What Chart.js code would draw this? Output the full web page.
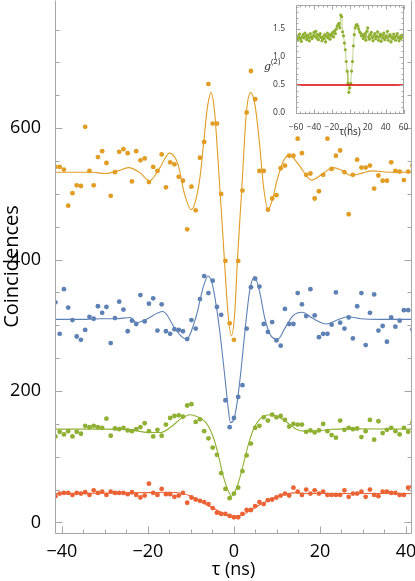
<!DOCTYPE html>
<html>
<head>
<meta charset="utf-8">
<script src="https://cdn.jsdelivr.net/npm/chart.js@4"></script>
<style>
  html, body { margin: 0; padding: 0; background: #fff; }
  #wrap { position: relative; width: 415px; height: 581px; }
  #main { position: absolute; left: 0; top: 0; }
  #inset { position: absolute; left: 255px; top: 0; }
</style>
</head>
<body>
<div id="wrap">
  <canvas id="main" width="415" height="581"></canvas>
  <canvas id="inset" width="157" height="140"></canvas>
</div>
<script>
// time bins (ns), shared by the four measured series
const tau = [-41.50, -40.51, -39.52, -38.53, -37.54, -36.56, -35.57, -34.58, -33.59, -32.60,
  -31.62, -30.63, -29.64, -28.65, -27.66, -26.68, -25.69, -24.70, -23.71, -22.72,
  -21.74, -20.75, -19.76, -18.77, -17.78, -16.80, -15.81, -14.82, -13.83, -12.84,
  -11.86, -10.87, -9.88, -8.89, -7.90, -6.92, -5.93, -4.94, -3.95, -2.96,
  -1.98, -0.99, 0, 0.99, 1.98, 2.96, 3.95, 4.94, 5.93, 6.92,
  7.90, 8.89, 9.88, 10.87, 11.86, 12.84, 13.83, 14.82, 15.81, 16.80,
  17.78, 18.77, 19.76, 20.75, 21.74, 22.72, 23.71, 24.70, 25.69, 26.68,
  27.66, 28.65, 29.64, 30.63, 31.62, 32.60, 33.59, 34.58, 35.57, 36.56,
  37.54, 38.53, 39.52, 40.51, 41.50];

const orange = [541, 541, 537, 482, 501, 513, 512, 602, 535, 513,
  556, 565, 547, 497, 533, 564, 568, 562, 519, 565,
  551, 554, 518, 541, 535, 560, 510, 548, 545, 526,
  520, 446, 511, 475, 555, 579, 667, 607, 607, 500,
  398, 303, 278, 398, 505, 624, 687, 644, 535, 535,
  476, 493, 498, 539, 543, 558, 558, 584, 562, 529,
  531, 493, 504, 529, 584, 538, 558, 566, 533, 469,
  529, 552, 540, 540, 543, 508, 528, 520, 520, 548,
  535, 534, 521, 534, 543];

const blue = [335, 287, 355, 327, 308, 283, 278, 293, 313, 310,
  329, 319, 328, 273, 311, 336, 324, 291, 307, 302,
  346, 306, 333, 341, 292, 332, 291, 287, 294, 293,
  291, 279, 308, 295, 340, 375, 349, 368, 328, 316,
  186, 145, 159, 191, 209, 295, 358, 371, 359, 302,
  290, 305, 277, 269, 325, 302, 302, 349, 332, 314,
  355, 315, 282, 287, 287, 301, 350, 304, 295, 312,
  280, 329, 349, 270, 319, 347, 292, 299, 275, 312,
  298, 307, 323, 323, 294];

const green = [131, 138, 134, 139, 131, 138, 135, 147, 145, 147,
  145, 144, 158, 132, 143, 142, 144, 140, 139, 142,
  145, 151, 139, 131, 141, 132, 149, 159, 162, 163,
  161, 178, 180, 153, 157, 139, 128, 114, 103, 75,
  51, 37, 44, 53, 78, 102, 120, 144, 147, 160,
  155, 164, 160, 162, 156, 146, 150, 149, 149, 138,
  140, 137, 140, 150, 139, 133, 129, 155, 141, 144,
  142, 143, 130, 139, 156, 126, 154, 136, 141, 144,
  139, 134, 144, 138, 152];

const red = [40, 44, 45, 45, 42, 45, 44, 46, 42, 49,
  45, 47, 42, 47, 45, 45, 45, 43, 46, 42,
  38, 41, 59, 45, 42, 51, 43, 43, 39, 41,
  45, 30, 38, 35, 33, 31, 28, 22, 15, 13,
  13, 10, 8, 8, 13, 19, 19, 25, 31, 28,
  34, 35, 38, 41, 44, 41, 53, 47, 42, 50,
  44, 49, 44, 47, 42, 42, 42, 42, 49, 39,
  44, 44, 47, 39, 50, 42, 40, 47, 47, 45,
  45, 42, 42, 53, 55];

// fitted curves
const fitTauOrange = [-41.6, -37, -33, -30, -27, -24.5, -22, -19.6, -17.2, -15, -13, -11.5, -9.9, -8.9,
  -7.9, -7, -6.2, -5.3, -4.5, -3.7, -2.7, -2.2, -1.4, -0.6, 0.2, 0.8, 1.8, 2.9, 3.9, 4.9, 5.9,
  6.9, 7.9, 8.9, 10, 11.5, 12.9, 15, 18, 20.5, 23, 25, 27.2, 30, 32.2, 36, 41.4];
const fitOrange = [533, 533, 533, 531, 535, 540, 533, 520, 540, 562, 545, 500, 476, 490,
  525, 580, 630, 654, 625, 552, 450, 398, 320, 284, 320, 398, 505, 624, 654, 635, 580,
  510, 476, 490, 520, 550, 559, 545, 521, 530, 540, 536, 528, 532, 535, 533, 533];

const fitTauBlue = [-41.6, -36, -31, -27.5, -24, -22.7, -20.7, -16.5, -13.4, -11.1, -8.8, -7.1, -6, -5,
  -4, -3, -2, -1.3, -0.8, 0, 0.8, 1.7, 2.7, 3.7, 4.8, 6, 7.2, 8.6, 10.2, 11.8, 13.8, 15.9,
  18.2, 21.5, 24, 26.5, 29.5, 34, 41.4];
const fitBlue = [309, 309, 310, 310, 312, 304, 308, 321, 292, 279, 313, 359, 375, 362,
  325, 275, 215, 172, 152, 157, 185, 235, 300, 354, 374, 350, 310, 284, 279, 295, 315, 320,
  311, 302, 308, 313, 310, 309, 309];

const fitTauGreen = [-41.6, -30, -24, -20, -17, -14.5, -12.3, -10.2, -8.5, -6.5, -5.5, -4.5, -3.5, -2.5,
  -1.5, -0.5, 0.5, 1.5, 2.5, 3.5, 4.5, 5.5, 7, 8.8, 10.5, 12.6, 14.5, 16.4, 19, 22, 26, 41.4];
const fitGreen = [142, 142, 141, 137, 137, 146, 158, 164, 161, 152, 141, 124, 99, 71,
  51, 40, 51, 71, 97, 122, 141, 153, 162, 164, 160, 151, 142, 139, 139, 141.5, 142.5, 142];

const fitTauRed = [-41.6, -30, -20, -15, -12, -10, -8, -6, -4, -2, -0.5, 1, 2.5, 4, 6, 8, 10, 12, 14, 18, 41.4];
const fitRed = [44, 44.5, 45.5, 46, 44, 40, 33, 26, 19, 12.5, 9, 10, 13.5, 19, 27, 33, 39, 43, 45, 44, 44];

// tick labels
const xTicks = [-40, -20, 0, 20, 40];
const yTicks = [0, 200, 400, 600];

// inset: normalised g2 versus tau (ns)
const insetTau = [-60, -59, -58, -57, -56, -55, -54, -53, -52, -51, -50, -49, -48, -47, -46, -45, -44, -43, -42, -41,
  -40, -39, -38, -37, -36, -35, -34, -33, -32, -31, -30, -29, -28, -27, -26, -25, -24, -23, -22, -21,
  -20, -19, -18, -17, -16, -15, -14, -13, -12, -11, -10, -9, -8, -7, -6, -5, -4, -3, -2, -1,
  0, 1, 2, 3, 4, 5, 6, 7, 8, 9, 10, 11, 12, 13, 14, 15, 16, 17, 18, 19,
  20, 21, 22, 23, 24, 25, 26, 27, 28, 29, 30, 31, 32, 33, 34, 35, 36, 37, 38, 39,
  40, 41, 42, 43, 44, 45, 46, 47, 48, 49, 50, 51, 52, 53, 54, 55, 56, 57, 58, 59, 60];
const insetG2 = [1.32, 1.38, 1.30, 1.35, 1.41, 1.33, 1.28, 1.36, 1.40, 1.34, 1.43, 1.37, 1.31, 1.39, 1.35, 1.29, 1.42, 1.36, 1.33, 1.38,
  1.44, 1.37, 1.46, 1.34, 1.40, 1.31, 1.38, 1.42, 1.35, 1.29, 1.36, 1.33, 1.40, 1.27, 1.37, 1.43, 1.34, 1.39, 1.32, 1.41,
  1.38, 1.44, 1.36, 1.47, 1.42, 1.50, 1.55, 1.58, 1.60, 1.52, 1.75, 1.72, 1.45, 1.38, 1.25, 1.13, 0.92, 0.75, 0.53, 0.37,
  0.45, 0.53, 0.75, 0.92, 1.20, 1.40, 1.52, 1.57, 1.58, 1.55, 1.50, 1.45, 1.43, 1.38, 1.40, 1.33, 1.37, 1.42, 1.30, 1.46,
  1.52, 1.36, 1.32, 1.40, 1.44, 1.35, 1.29, 1.38, 1.42, 1.33, 1.37, 1.45, 1.30, 1.36, 1.41, 1.28, 1.39, 1.34, 1.43, 1.31,
  1.38, 1.35, 1.46, 1.30, 1.37, 1.40, 1.27, 1.36, 1.33, 1.41, 1.35, 1.30, 1.38, 1.42, 1.34, 1.29, 1.37, 1.33, 1.39, 1.36, 1.37];
const insetLevelTau = [-60, 60];
const insetLevel = [0.5, 0.5];
const insetXTicks = [-60, -40, -20, 0, 20, 40, 60];
const insetYTicks = [0, 0.5, 1, 1.5];

const COLORS = {
  orange: "#e19c24",
  blue: "#5e81b5",
  green: "#8fb032",
  red: "#eb6235",
};

const FONT = "'Open Sans', 'DejaVu Sans', sans-serif";

function pts(xs, ys) {
  return xs.map((x, i) => ({ x: x, y: ys[i] }));
}

function scatterSet(ys, color) {
  return {
    type: "scatter",
    data: pts(tau, ys),
    backgroundColor: color,
    borderWidth: 0,
    pointRadius: 2.4,
    order: 2,
  };
}

function fitSet(xs, ys, color) {
  return {
    type: "line",
    data: pts(xs, ys),
    borderColor: color,
    borderWidth: 1.1,
    pointRadius: 0,
    fill: false,
    cubicInterpolationMode: "monotone",
    order: 1,
  };
}

const minus = (v) => String(v).replace("-", "\u2212");
const useTicks = (values) => (s) => { s.ticks = values.map((v) => ({ value: v })); };
// keep the plot frame where it is, whatever size the labels are
const fixSize = (prop, size) => (s) => {
  s[prop] = size;
  s.paddingTop = 0; s.paddingBottom = 0; s.paddingLeft = 0; s.paddingRight = 0;
};

// frame with inward ticks, as in the original figure
function framePlugin(opts) {
  return {
    id: "frame",
    afterDatasetsDraw(chart) {
      const { ctx, chartArea: a, scales } = chart;
      const xs = scales.x, ys = scales.y;
      const L = Math.round(a.left) + 0.5, R = Math.round(a.right) - 0.5;
      const T = Math.round(a.top) + 0.5, B = Math.round(a.bottom) + 0.5;
      ctx.save();
      ctx.strokeStyle = "#a6a6a6";
      ctx.lineWidth = 1;
      ctx.beginPath();
      ctx.moveTo(L, T); ctx.lineTo(L, B); ctx.lineTo(R, B); ctx.lineTo(R, T);
      if (opts.top) { ctx.lineTo(L, T); }
      const tick = (step, len, axis) => {
        const sc = axis === "x" ? xs : ys;
        const start = Math.ceil(sc.min / step - 1e-9) * step;
        for (let v = start; v <= sc.max + 1e-9; v += step) {
          const p = Math.round(sc.getPixelForValue(v)) + 0.5;
          if (axis === "x") {
            ctx.moveTo(p, B); ctx.lineTo(p, B - len);
            if (opts.top) { ctx.moveTo(p, T); ctx.lineTo(p, T + len); }
          } else {
            ctx.moveTo(L, p); ctx.lineTo(L + len, p);
            ctx.moveTo(R, p); ctx.lineTo(R - len, p);
          }
        }
      };
      tick(opts.xMajor, opts.majorLen, "x");
      tick(opts.xMinor, opts.minorLen, "x");
      tick(opts.yMajor, opts.majorLen, "y");
      tick(opts.yMinor, opts.minorLen, "y");
      ctx.stroke();
      ctx.restore();
    },
  };
}

// main chart
new Chart(document.getElementById("main").getContext("2d"), {
  type: "scatter",
  data: {
    datasets: [
      fitSet(fitTauOrange, fitOrange, COLORS.orange),
      fitSet(fitTauBlue, fitBlue, COLORS.blue),
      fitSet(fitTauGreen, fitGreen, COLORS.green),
      fitSet(fitTauRed, fitRed, COLORS.red),
      scatterSet(orange, COLORS.orange),
      scatterSet(blue, COLORS.blue),
      scatterSet(green, COLORS.green),
      scatterSet(red, COLORS.red),
    ],
  },
  options: {
    responsive: false,
    animation: false,
    events: [],
    layout: { autoPadding: false, padding: { top: 0, right: 3, left: 0, bottom: 0 } },
    plugins: { legend: { display: false }, tooltip: { enabled: false } },
    scales: {
      x: {
        type: "linear",
        min: -41.6,
        max: 41.4,
        grid: { display: false },
        border: { display: false },
        afterBuildTicks: useTicks(xTicks),
        ticks: {
          autoSkip: false,
          padding: 0,
          maxRotation: 0,
          color: "#000",
          font: { family: FONT, size: 18 },
          callback: (v) => minus(v),
        },
        title: {
          display: true,
          text: "\u03c4 (ns)",
          color: "#000",
          font: { family: FONT, size: 18 },
          padding: { top: 0, bottom: 0 },
        },
        afterFit: fixSize("height", 48),
      },
      y: {
        min: -16,
        max: 795,
        grid: { display: false },
        border: { display: false },
        afterBuildTicks: useTicks(yTicks),
        ticks: {
          autoSkip: false,
          padding: 6,
          color: "#000",
          font: { family: FONT, size: 18 },
          callback: (v) => String(v),
        },
        title: {
          display: true,
          text: "Coincidences",
          color: "#000",
          font: { family: FONT, size: 20 },
          padding: { top: 0, bottom: 0 },
        },
        afterFit: fixSize("width", 55),
      },
    },
  },
  plugins: [framePlugin({ top: false, xMajor: 20, xMinor: 5, yMajor: 200, yMinor: 50, majorLen: 7, minorLen: 4 })],
});

// g(2) label drawn beside the inset axis
const g2Label = {
  id: "g2label",
  afterDraw(chart) {
    const ctx = chart.ctx;
    ctx.save();
    ctx.fillStyle = "#222";
    ctx.textBaseline = "alphabetic";
    ctx.font = "italic 11px 'DejaVu Serif', serif";
    ctx.fillText("g", 9, 70);
    ctx.font = "8px " + FONT;
    ctx.fillText("(2)", 16, 64);
    ctx.restore();
  },
};

// inset chart
new Chart(document.getElementById("inset").getContext("2d"), {
  type: "line",
  data: {
    datasets: [
      {
        data: pts(insetLevelTau, insetLevel),
        borderColor: "#dd0000",
        borderWidth: 1.3,
        pointRadius: 0,
        order: 0,
      },
      {
        data: pts(insetTau, insetG2),
        borderColor: "rgba(143,176,50,0.55)",
        borderWidth: 1,
        backgroundColor: COLORS.green,
        pointRadius: 1.6,
        pointBorderWidth: 0,
        order: 1,
      },
    ],
  },
  options: {
    responsive: false,
    animation: false,
    events: [],
    layout: { autoPadding: false, padding: { top: 5, right: 8, left: 0, bottom: 0 } },
    plugins: { legend: { display: false }, tooltip: { enabled: false } },
    scales: {
      x: {
        type: "linear",
        min: -60,
        max: 60.5,
        grid: { display: false },
        border: { display: false },
        afterBuildTicks: useTicks(insetXTicks),
        ticks: {
          autoSkip: false,
          padding: 1,
          maxRotation: 0,
          color: "#333",
          font: { family: FONT, size: 8.5 },
          callback: (v) => minus(v),
        },
        title: {
          display: true,
          text: "\u03c4(ns)",
          color: "#222",
          font: { family: FONT, size: 10 },
          padding: { top: 0, bottom: 2 },
        },
        afterFit: fixSize("height", 27),
      },
      y: {
        min: 0,
        max: 1.93,
        grid: { display: false },
        border: { display: false },
        afterBuildTicks: useTicks(insetYTicks),
        ticks: {
          autoSkip: false,
          padding: 3,
          color: "#333",
          font: { family: FONT, size: 8.5 },
          callback: (v) => v.toFixed(1),
        },
        afterFit: fixSize("width", 41),
      },
    },
  },
  plugins: [framePlugin({ top: true, xMajor: 20, xMinor: 5, yMajor: 0.5, yMinor: 0.1, majorLen: 4, minorLen: 2 }), g2Label],
});
</script>
</body>
</html>
